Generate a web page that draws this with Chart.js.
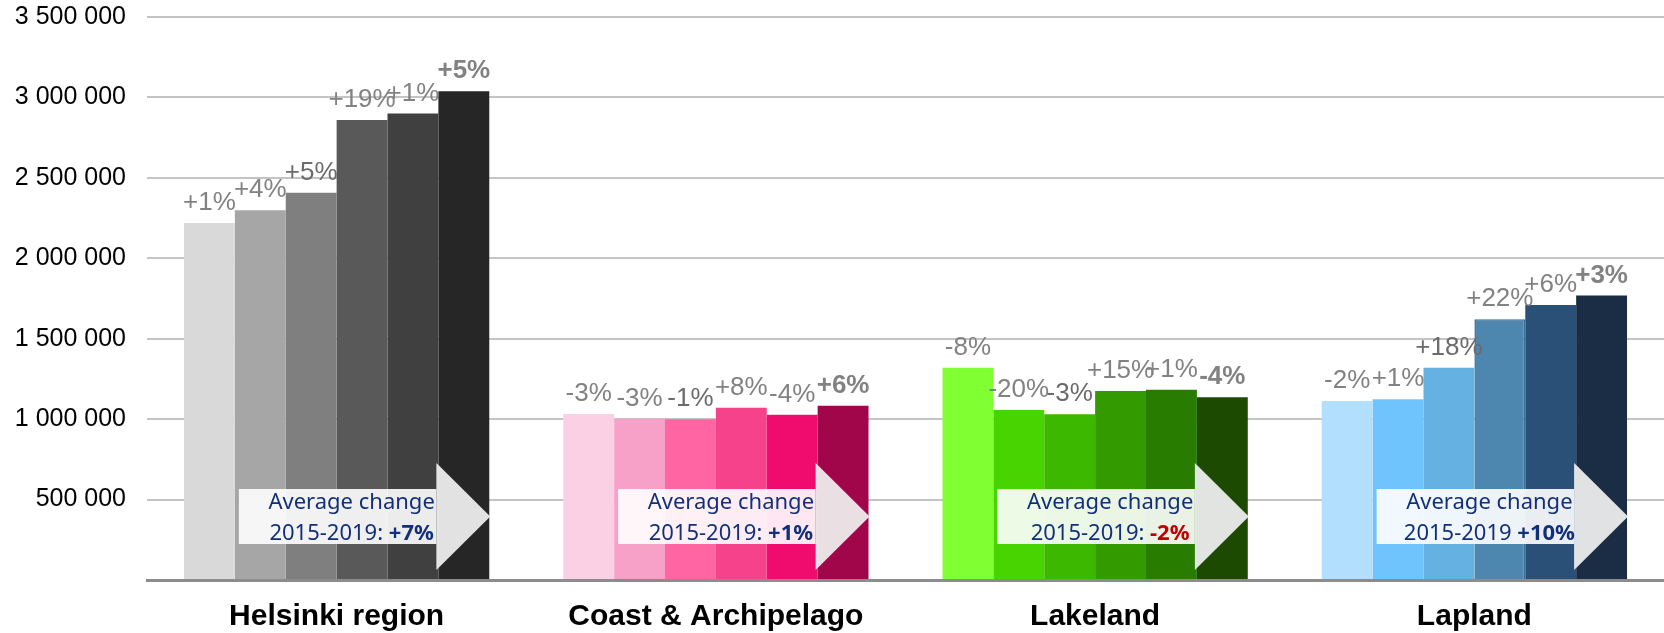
<!DOCTYPE html>
<html>
<head>
<meta charset="utf-8">
<script src="https://cdn.jsdelivr.net/npm/chart.js@4.4.0/dist/chart.umd.min.js"></script>
<style>
  html, body { margin: 0; padding: 0; background: #fff; }
  #wrap { width: 1664px; height: 633px; }
</style>
</head>
<body>
<div id="wrap"><canvas id="c"></canvas></div>
<script>
// regions on the x axis
const regions = ['Helsinki region', 'Coast & Archipelago', 'Lakeland', 'Lapland'];
const years = ['2014', '2015', '2016', '2017', '2018', '2019'];

// nights per year, one value per region
const nights2014 = [2220000, 1032000, 1320000, 1113000];
const nights2015 = [2299000, 1003000, 1057000, 1124000];
const nights2016 = [2407000, 999000, 1030000, 1320000];
const nights2017 = [2859000, 1071000, 1175000, 1621000];
const nights2018 = [2900000, 1028000, 1182000, 1710000];
const nights2019 = [3039000, 1084000, 1136000, 1768000];

// yearly change labels shown above the bars
const change2014 = ['+1%', '-3%', '-8%', '-2%'];
const change2015 = ['+4%', '-3%', '-20%', '+1%'];
const change2016 = ['+5%', '-1%', '-3%', '+18%'];
const change2017 = ['+19%', '+8%', '+15%', '+22%'];
const change2018 = ['+1%', '-4%', '+1%', '+6%'];
const change2019 = ['+5%', '+6%', '-4%', '+3%'];

// average change in the arrows
const avgPeriod = ['2015-2019:', '2015-2019:', '2015-2019:', '2015-2019'];
const avgChange = ['+7%', '+1%', '-2%', '+10%'];

const yTicks = [0, 500000, 1000000, 1500000, 2000000, 2500000, 3000000, 3500000];

const nights = [nights2014, nights2015, nights2016, nights2017, nights2018, nights2019];
const changes = [change2014, change2015, change2016, change2017, change2018, change2019];

// colours: [helsinki, coast, lakeland, lapland] per year
const colors = [
    ['#d9d9d9', '#fbd0e4', '#80ff33', '#b3dfff'],
    ['#a6a6a6', '#f7a1c8', '#48d400', '#70c4fe'],
    ['#7f7f7f', '#fe65a2', '#3db800', '#64b1e2'],
    ['#595959', '#f5428a', '#339a00', '#4d87b0'],
    ['#404040', '#ef0c6e', '#287c00', '#2b5078'],
    ['#262626', '#a1064a', '#1b4a00', '#1a2d45']
];

const fmt = v => String(v).replace(/\B(?=(\d{3})+(?!\d))/g, ' ');

const extras = {
    id: 'extras',
    afterDatasetsDraw(chart) {
        const ctx = chart.ctx;
        const area = chart.chartArea;

        // change labels
        nights.forEach((series, d) => {
            const meta = chart.getDatasetMeta(d);
            meta.data.forEach((bar, i) => {
                ctx.save();
                const last = d === years.length - 1;
                ctx.font = (last ? 'bold ' : '') + '26px "Liberation Sans", Arial, sans-serif';
                ctx.fillStyle = d === 2 ? '#6b6b6b' : '#828282';
                ctx.textAlign = 'center';
                ctx.textBaseline = 'alphabetic';
                ctx.fillText(changes[d][i], bar.x, bar.y - 13);
                ctx.restore();
            });
        });

        // average change arrows
        const m2 = chart.getDatasetMeta(1);
        const m6 = chart.getDatasetMeta(5);
        regions.forEach((r, i) => {
            const b2 = m2.data[i], b6 = m6.data[i];
            const left = b2.x - b2.width / 2 + 4;
            const headX = b6.x - b6.width / 2 - 2;
            const tipX = b6.x + b6.width / 2 + 1;
            const bot = area.bottom;
            const bodyTop = bot - 91, bodyBot = bot - 36;
            const headTop = bot - 117, headBot = bot - 10;
            const mid = (headTop + headBot) / 2;

            ctx.save();
            ctx.fillStyle = 'rgba(255,255,255,0.9)';
            ctx.fillRect(left, bodyTop, headX - left, bodyBot - bodyTop);
            ctx.fillStyle = 'rgba(238,238,238,0.94)';
            ctx.beginPath();
            ctx.moveTo(headX, headTop);
            ctx.lineTo(tipX, mid);
            ctx.lineTo(headX, headBot);
            ctx.closePath();
            ctx.fill();

            const cx = (left + headX) / 2 + 14;
            ctx.textBaseline = 'alphabetic';
            ctx.fillStyle = '#12307a';
            ctx.font = '22px "Noto Sans", sans-serif';
            ctx.textAlign = 'center';
            ctx.fillText('Average change', cx, bodyTop + 20);

            const part1 = avgPeriod[i] + ' ';
            const w1 = ctx.measureText(part1).width;
            ctx.font = 'bold 22px "Noto Sans", sans-serif';
            const w2 = ctx.measureText(avgChange[i]).width;
            const x0 = cx - (w1 + w2) / 2;
            ctx.textAlign = 'left';
            ctx.font = '22px "Noto Sans", sans-serif';
            ctx.fillText(part1, x0, bodyTop + 51);
            ctx.font = 'bold 22px "Noto Sans", sans-serif';
            ctx.fillStyle = avgChange[i].startsWith('-') ? '#c00000' : '#12307a';
            ctx.fillText(avgChange[i], x0 + w1, bodyTop + 51);
            ctx.restore();
        });
    }
};

Chart.defaults.font.family = '"Liberation Sans", Arial, sans-serif';

new Chart(document.getElementById('c'), {
    type: 'bar',
    data: {
        labels: regions,
        datasets: years.map((y, d) => ({
            label: y,
            data: nights[d],
            backgroundColor: colors[d],
            borderColor: d === 3 ? ['#d9d9d9', '#f5428a', '#339a00', '#3d6c94'] : 'transparent',
            borderWidth: d === 3 ? [0, 0, 0, 1.5] : 0,
            categoryPercentage: 0.805,
            barPercentage: 1
        }))
    },
    options: {
        responsive: true,
        maintainAspectRatio: false,
        animation: false,
        devicePixelRatio: 1,
        layout: { padding: { left: 15, top: 0, right: 0, bottom: 0 } },
        plugins: {
            legend: { display: false },
            tooltip: { enabled: false }
        },
        scales: {
            x: {
                grid: { display: false, drawTicks: false },
                border: { display: true, color: '#8c8c8c', width: 3 },
                afterFit: s => { s.height = 53; },
                ticks: {
                    color: '#000',
                    padding: 19,
                    font: { weight: 'bold', size: 30 }
                }
            },
            y: {
                min: 0,
                max: 3500000,
                afterBuildTicks: s => { s.ticks = yTicks.map(v => ({ value: v })); },
                afterFit: s => { s.width = 132; s.paddingTop = 17; s.paddingBottom = 0; },
                grid: { color: '#c4c4c4', lineWidth: 2, drawTicks: false },
                border: { display: false },
                ticks: {
                    color: '#000',
                    padding: 21,
                    font: { size: 25 },
                    callback: v => v === 0 ? '' : fmt(v)
                }
            }
        }
    },
    plugins: [extras]
});
</script>
</body>
</html>
